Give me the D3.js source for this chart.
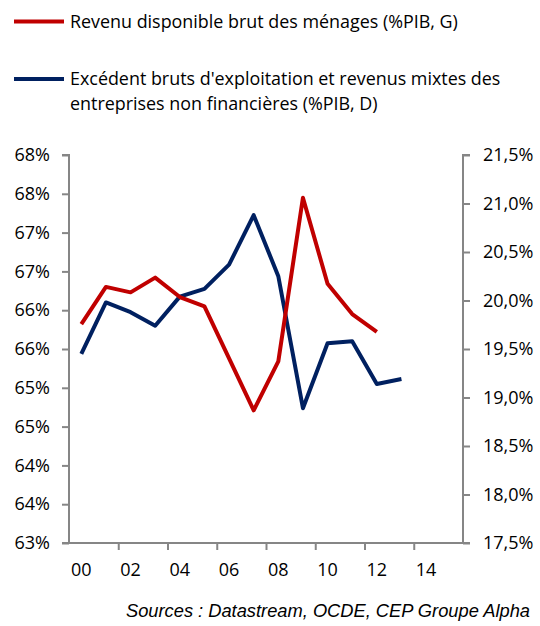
<!DOCTYPE html>
<html>
<head>
<meta charset="utf-8">
<script src="https://cdn.jsdelivr.net/npm/d3@7"></script>
<style>
  body { margin: 0; background: #fff; }
  svg text { font-family: "Open Sans", sans-serif; fill: #000; }
</style>
</head>
<body>
<div id="chart"></div>
<script>
// categories (years, one per band) and x tick labels
var years = [2000, 2001, 2002, 2003, 2004, 2005, 2006, 2007, 2008, 2009, 2010, 2011, 2012, 2013, 2014, 2015];
var xLabelYears = [2000, 2002, 2004, 2006, 2008, 2010, 2012, 2014];
var xLabels = ["00", "02", "04", "06", "08", "10", "12", "14"];

// Revenu disponible brut des ménages (%PIB, left axis)
var menages = [65.82, 66.30, 66.23, 66.42, 66.17, 66.05, 65.38, 64.71, 65.34, 67.45, 66.34, 65.95, 65.72];
// EBE + revenus mixtes des SNF (%PIB, right axis)
var entreprises = [19.45, 19.98, 19.88, 19.74, 20.04, 20.12, 20.37, 20.88, 20.25, 18.89, 19.56, 19.58, 19.14, 19.19];

var leftTicks = [63, 63.5, 64, 64.5, 65, 65.5, 66, 66.5, 67, 67.5, 68];
var leftTickLabels = ["63%", "64%", "64%", "65%", "65%", "66%", "66%", "67%", "67%", "68%", "68%"];
var rightTicks = [17.5, 18, 18.5, 19, 19.5, 20, 20.5, 21, 21.5];
var rightTickLabels = ["17,5%", "18,0%", "18,5%", "19,0%", "19,5%", "20,0%", "20,5%", "21,0%", "21,5%"];

var width = 540, height = 626;
var plot = {left: 69, right: 463, top: 155, bottom: 543};
var red = "#c00000", blue = "#002060", axisColor = "#868686";

var svg = d3.select("#chart").append("svg")
    .attr("width", width)
    .attr("height", height);

var x = d3.scaleBand()
    .domain(years)
    .range([plot.left, plot.right])
    .padding(0);
var xLin = d3.scaleLinear()
    .domain([2000, 2016])
    .range([plot.left, plot.right]);
var yL = d3.scaleLinear().domain([63, 68]).range([plot.bottom, plot.top]);
var yR = d3.scaleLinear().domain([17.5, 21.5]).range([plot.bottom, plot.top]);

// left axis
var gl = svg.append("g")
    .attr("transform", "translate(" + plot.left + ",0)")
    .call(d3.axisLeft(yL).tickValues(leftTicks).tickSize(7).tickPadding(12)
      .tickFormat(function(d, i) { return leftTickLabels[i]; }));

// right axis
var gr = svg.append("g")
    .attr("transform", "translate(" + plot.right + ",0)")
    .call(d3.axisRight(yR).tickValues(rightTicks).tickSize(7).tickPadding(13)
      .tickFormat(function(d, i) { return rightTickLabels[i]; }));

// x axis: ticks between pairs of years, labels centred on the year
var gx = svg.append("g")
    .attr("transform", "translate(0," + plot.bottom + ")")
    .call(d3.axisBottom(xLin).tickValues([2002, 2004, 2006, 2008, 2010, 2012, 2014]).tickSize(7).tickFormat(""));
gx.select(".domain").attr("d", "M" + (plot.left - 7) + ",0H" + plot.right);

var gxl = svg.append("g")
    .attr("transform", "translate(0," + plot.bottom + ")")
    .call(d3.axisBottom(x).tickValues(xLabelYears).tickSize(0).tickPadding(20)
      .tickFormat(function(d, i) { return xLabels[i]; }));
gxl.select(".domain").remove();

[gl, gr, gx].forEach(function(g) {
  g.select(".domain").attr("stroke", axisColor).attr("stroke-width", 2);
  g.selectAll(".tick line").attr("stroke", axisColor).attr("stroke-width", 2);
});
gl.select(".domain").attr("d", "M-7," + plot.top + "H0V" + plot.bottom + "H-7");
gr.select(".domain").attr("d", "M7," + plot.top + "H0V" + plot.bottom + "H7");
svg.selectAll(".tick text")
    .attr("font-family", "Open Sans, sans-serif")
    .attr("font-size", "18px")
    .attr("fill", "#000");

// lines
var lineL = d3.line()
    .x(function(d, i) { return x(years[i]) + x.bandwidth() / 2; })
    .y(function(d) { return yL(d); });
var lineR = d3.line()
    .x(function(d, i) { return x(years[i]) + x.bandwidth() / 2; })
    .y(function(d) { return yR(d); });

svg.append("path")
    .datum(entreprises)
    .attr("d", lineR)
    .attr("fill", "none")
    .attr("stroke", blue)
    .attr("stroke-width", 4)
    .attr("stroke-linejoin", "round");

svg.append("path")
    .datum(menages)
    .attr("d", lineL)
    .attr("fill", "none")
    .attr("stroke", red)
    .attr("stroke-width", 4)
    .attr("stroke-linejoin", "round");

// legend
svg.append("line")
    .attr("x1", 14).attr("x2", 64).attr("y1", 21.5).attr("y2", 21.5)
    .attr("stroke", red).attr("stroke-width", 4);
svg.append("text")
    .attr("x", 70).attr("y", 28)
    .attr("font-size", "17.9px")
    .text("Revenu disponible brut des ménages (%PIB, G)");

svg.append("line")
    .attr("x1", 14).attr("x2", 64).attr("y1", 79).attr("y2", 79)
    .attr("stroke", blue).attr("stroke-width", 4);
svg.append("text")
    .attr("x", 70).attr("y", 85)
    .attr("font-size", "17.9px")
    .text("Excédent bruts d'exploitation et revenus mixtes des");
svg.append("text")
    .attr("x", 70).attr("y", 110)
    .attr("font-size", "17.9px")
    .text("entreprises non financières (%PIB, D)");

// source
svg.append("text")
    .attr("x", 530).attr("y", 617)
    .attr("text-anchor", "end")
    .style("font-family", "Liberation Sans, Arial, sans-serif")
    .style("font-style", "italic")
    .attr("font-size", "18.3px")
    .text("Sources : Datastream, OCDE, CEP Groupe Alpha");
</script>
</body>
</html>
